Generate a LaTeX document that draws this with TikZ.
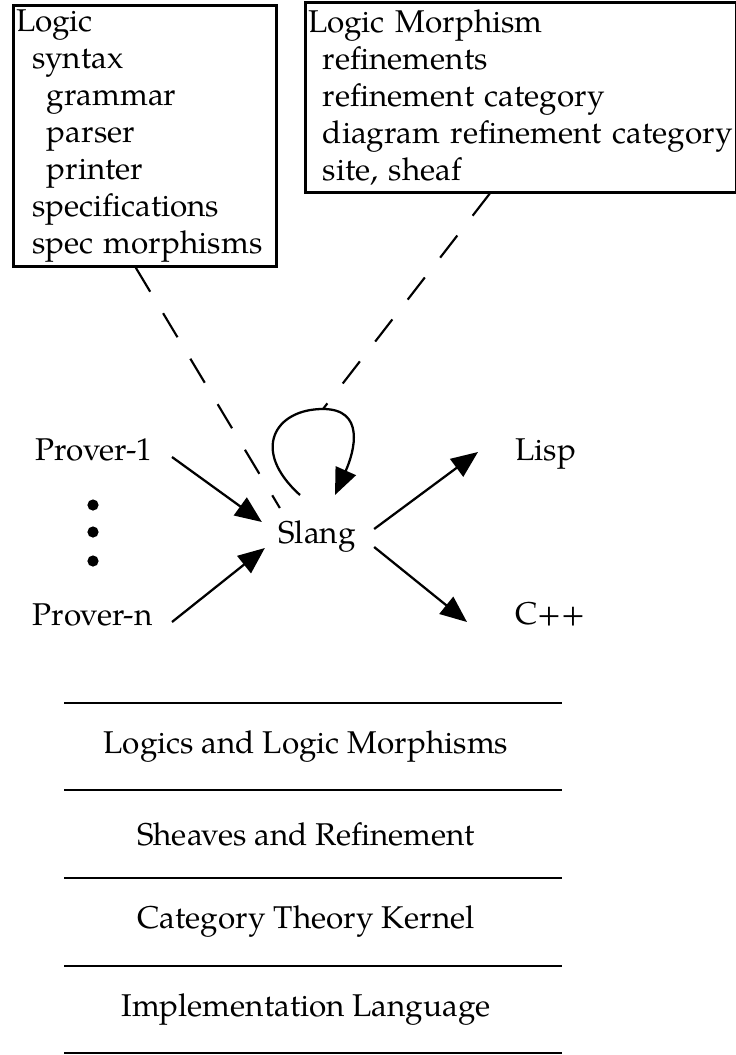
\documentclass[tikz,border=0pt]{standalone}
\usepackage{fontspec}
\setmainfont{TeX Gyre Pagella}
\usetikzlibrary{arrows.meta,calc}
\hyphenpenalty=10000
\begin{document}
\begin{tikzpicture}[
    x=0.375pt,y=-0.375pt,
    font=\fontsize{11.8}{13.9}\selectfont,
    box/.style={draw=black,line width=1pt,align=left,
                inner xsep=1pt,inner ysep=1.5pt,anchor=north west},
    word/.style={inner sep=0pt},
    flow/.style={-{Triangle[length=10pt,width=8.2pt]},line width=0.85pt},
    link/.style={line width=0.8pt,dash pattern=on 10.5pt off 9.4pt},
    layer/.style={line width=1.1pt}
  ]
    \useasboundingbox (0,0) rectangle (736,1055);

    \node[box,text width=96.6pt] (logic) at (12,4)
      {Logic\\
       \hspace*{6pt}syntax\\
       \hspace*{11.6pt}grammar\\
       \hspace*{11.6pt}parser\\
       \hspace*{11.6pt}printer\\
       \hspace*{6pt}specifications\\
       \hspace*{6pt}spec morphisms};
    \node[box,text width=159.6pt,minimum height=71.2pt] (morph) at (304,1)
      {Logic Morphism\\
       \hspace*{5.6pt}refinements\\
       \hspace*{5.6pt}refinement category\\
       \hspace*{5.6pt}diagram refinement category\\
       \hspace*{5.6pt}site, sheaf};

    \node[word,anchor=base east] (p1) at (153,460) {Prover-1};
    \node[word,anchor=base east] (pn) at (153,625) {Prover-n};
    \node[word,anchor=base] (slang) at (317,543) {Slang};
    \node[word,anchor=base west] (lisp) at (515,460) {Lisp};
    \node[word,anchor=base west] (cpp) at (515,624) {C++};

    \fill (93,505) circle (2.1pt);
    \fill (93,532) circle (2.1pt);
    \fill (93,561) circle (2.1pt);

    \draw[flow] ($(p1.base east)+(19,-3)$) -- ($(slang.base west)+(-16,-21)$);
    \draw[flow] ($(pn.base east)+(19,-3)$) -- ($(slang.base west)+(-13,5)$);
    \draw[flow] ($(slang.base east)+(18,-14)$) -- ($(lisp.base west)+(-37,-8)$);
    \draw[flow] ($(slang.base east)+(18,4)$) -- ($(cpp.base west)+(-48,-2)$);

    % self loop on Slang
    \draw[flow] ($(slang.base)+(-17,-48)$)
      .. controls +(-50,-45) and +(-48,0) .. ($(slang.base)+(6,-134)$)
      coordinate (looptop)
      .. controls +(42,0) and +(20,-45) .. ($(slang.base)+(18,-48)$);

    \draw[link] ($(logic.south)+(-9,0)$) -- ($(slang.base west)+(2,-35)$);
    \draw[link] ($(morph.south)+(-31,0)$) -- (looptop);

    \foreach \y in {703,790,878,966,1053}
      \draw[layer] (64,\y) -- (562,\y);

    \node[word] (lay1) at (306,746.5) {Logics and Logic Morphisms};
    \node[word] (lay2) at (306,834) {Sheaves and Refinement};
    \node[word] (lay3) at (306,922) {Category Theory Kernel};
    \node[word] (lay4) at (306,1009.5) {Implementation Language};
  \end{tikzpicture}
\end{document}
